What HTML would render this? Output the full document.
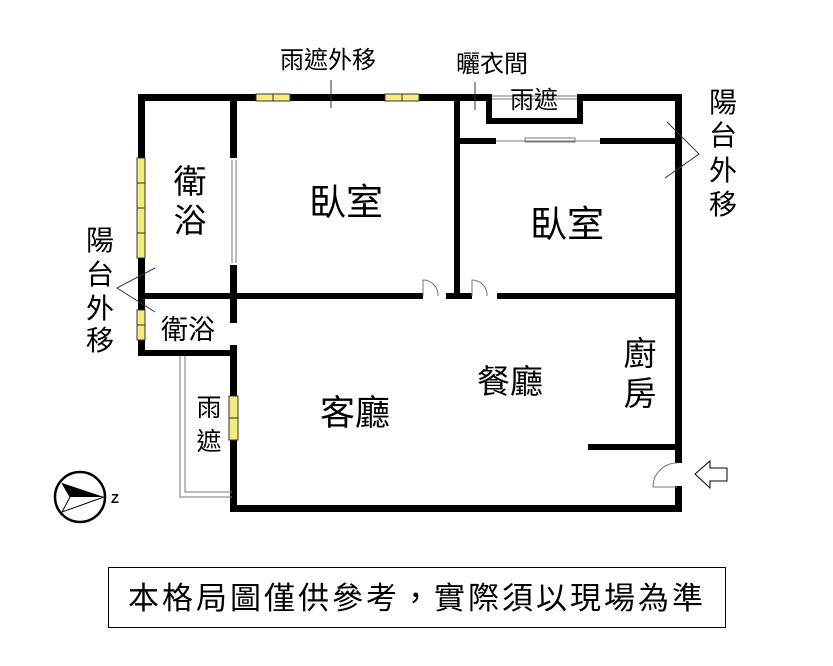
<!DOCTYPE html>
<html><head><meta charset="utf-8"><style>
html,body{margin:0;padding:0;background:#fff;}
svg{display:block;}
text{font-family:"Liberation Sans","Noto Sans CJK TC",sans-serif;fill:#000;}
</style></head><body>
<svg width="833" height="666" viewBox="0 0 833 666" xmlns="http://www.w3.org/2000/svg">
<g fill="#000">
<rect x="138" y="94" width="351" height="7"/>
<rect x="580" y="94" width="102" height="7"/>
<rect x="486" y="94" width="6" height="29"/>
<rect x="577" y="94" width="6" height="29"/>
<rect x="486" y="118" width="97" height="6"/>
<rect x="675" y="94" width="7" height="369"/>
<rect x="675" y="486" width="7" height="26"/>
<rect x="230" y="505" width="452" height="7"/>
<rect x="138" y="94" width="7" height="262"/>
<rect x="138" y="350" width="97" height="6"/>
<rect x="230" y="94" width="7" height="64"/>
<rect x="230" y="265" width="7" height="58"/>
<rect x="230" y="345" width="7" height="167"/>
<rect x="138" y="293" width="285" height="6"/>
<rect x="446" y="293" width="26" height="6"/>
<rect x="497" y="293" width="185" height="6"/>
<rect x="454" y="94" width="6" height="205"/>
<rect x="454" y="138" width="42" height="6"/>
<rect x="600" y="138" width="82" height="6"/>
<rect x="588" y="444" width="94" height="6"/>
</g>
<g stroke="#777" stroke-width="1" fill="none">
<line x1="492" y1="96" x2="577" y2="96"/>
<line x1="492" y1="99" x2="577" y2="99"/>
<line x1="496" y1="141" x2="600" y2="141"/>
<rect x="525" y="138" width="50" height="4"/>
<line x1="232" y1="160" x2="232" y2="263"/>
<line x1="236" y1="160" x2="236" y2="263"/>
<polyline points="180,356 180,497 232,497"/>
<polyline points="185,356 185,492 232,492"/>
<path d="M423,296 L423,280 A15,15 0 0 1 438,296"/>
<path d="M472,296 L472,280 A15,15 0 0 1 487,296"/>
<path d="M677,463 A24,24 0 0 0 653,487 L677,487"/>
</g>
<g fill="#f3ec7a" stroke="#333" stroke-width="1">
<rect x="256" y="94" width="17" height="7"/><rect x="273" y="94" width="17" height="7"/>
<rect x="385" y="94" width="17" height="7"/><rect x="402" y="94" width="17" height="7"/>
<rect x="137" y="158" width="8" height="25"/><rect x="137" y="183" width="8" height="25"/>
<rect x="137" y="208" width="8" height="25"/><rect x="137" y="233" width="8" height="25"/>
<rect x="137" y="310" width="8" height="15"/><rect x="137" y="325" width="8" height="15"/>
<rect x="229" y="396" width="9" height="22"/><rect x="229" y="418" width="9" height="22"/>
</g>
<g stroke="#333" stroke-width="1" fill="none">
<line x1="331" y1="80" x2="331" y2="108"/>
<line x1="475" y1="82" x2="475" y2="110"/>
<polyline points="667,122 699,154 665,178"/>
<polyline points="155,268 117,288 155,312"/>
</g>
<polygon points="695,474 710,461 710,468 727,468 727,481 710,481 710,488" fill="#fff" stroke="#000" stroke-width="1"/>
<circle cx="80" cy="497" r="25" fill="none" stroke="#000" stroke-width="2.5"/>
<polygon points="62,483 104,497 70,497" fill="#000"/>
<polyline points="104,497 62,512 70,497 62,483" fill="none" stroke="#000" stroke-width="1"/>
<text x="111" y="503" font-size="13" font-weight="bold">Z</text>
<g font-size="24">
<text x="328" y="68" text-anchor="middle">雨遮外移</text>
<text x="492" y="72" text-anchor="middle">曬衣間</text>
<text x="534" y="108" text-anchor="middle">雨遮</text>
</g>
<g font-size="28" text-anchor="middle">
<text x="723" y="112">陽</text><text x="723" y="145">台</text><text x="723" y="180">外</text><text x="723" y="214">移</text>
<text x="100" y="250">陽</text><text x="100" y="284">台</text><text x="100" y="318">外</text><text x="100" y="350">移</text>
</g>
<g font-size="33" text-anchor="middle">
<text x="190" y="193">衛</text><text x="190" y="232">浴</text>
<text x="346" y="215" font-size="37">臥室</text>
<text x="567" y="237" font-size="37">臥室</text>
<text x="355" y="425" font-size="35">客廳</text>
<text x="510" y="393">餐廳</text>
<text x="640" y="365">廚</text><text x="640" y="405">房</text>
</g>
<text x="188" y="339" font-size="27" text-anchor="middle">衛浴</text>
<g font-size="25" text-anchor="middle">
<text x="209" y="416">雨</text><text x="209" y="450">遮</text>
</g>
<rect x="108.5" y="567.5" width="617" height="60" fill="none" stroke="#000" stroke-width="1"/>
<text x="417" y="609" font-size="31" text-anchor="middle" letter-spacing="3">本格局圖僅供參考，實際須以現場為準</text>
</svg>
</body></html>
